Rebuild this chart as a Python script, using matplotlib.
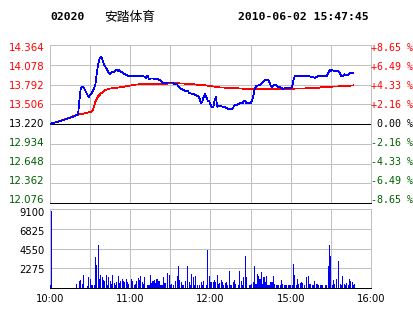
import matplotlib
matplotlib.use("Agg")
import matplotlib.pyplot as plt

# ---------------- data ----------------
code = "02020"
name = "安踏体育"
stamp = "2010-06-02 15:47:45"
prev_close = 13.220

price_ticks = [14.364, 14.078, 13.792, 13.506, 13.220, 12.934, 12.648, 12.362, 12.076]
pct_labels = ["+8.65 %", "+6.49 %", "+4.33 %", "+2.16 %", " 0.00 %",
              "-2.16 %", "-4.33 %", "-6.49 %", "-8.65 %"]
vol_ticks = [9100, 6825, 4550, 2275]
time_ticks = [0, 60, 120, 180, 240]
time_labels = ["10:00", "11:00", "12:00", "15:00", "16:00"]

# minutes since 10:00 (12:30 joins 14:30)
price_min = [0, 3, 6, 9, 12, 15, 18, 20, 21, 22, 23, 24, 25, 26, 27, 28, 29, 30, 31, 32, 33,
             34, 35, 36, 37, 38, 39, 40, 41, 42, 43, 44, 45, 46, 47, 48, 49, 50, 51, 52, 53,
             54, 55, 56, 58, 62, 66, 70, 72, 73, 74, 76, 80, 82, 84, 85, 88, 90, 92, 93, 95,
             96, 97, 99, 101, 103, 104, 106, 108, 110, 111, 112, 113, 114, 115, 116, 117, 118,
             119, 120, 121, 122, 123, 124, 125, 127, 129, 131, 133, 135, 136, 137, 138, 140,
             142, 144, 145, 146, 147, 148, 150, 151, 152, 153, 154, 156, 157, 158, 159, 160,
             161, 163, 164, 165, 166, 167, 168, 169, 170, 172, 174, 176, 178, 180, 181, 182,
             183, 186, 190, 194, 196, 198, 200, 204, 207, 208, 209, 210, 211, 212, 214, 216,
             217, 218, 219, 220, 221, 222, 223, 225, 227]
price_val = [13.22, 13.24, 13.25, 13.27, 13.29, 13.31, 13.33, 13.35, 13.36, 13.56, 13.74, 13.76,
             13.75, 13.72, 13.68, 13.64, 13.61, 13.64, 13.66, 13.70, 13.74, 13.80, 13.96, 14.08,
             14.16, 14.20, 14.17, 14.10, 14.06, 14.03, 14.00, 13.96, 13.94, 13.96, 13.98, 13.97,
             14.00, 14.01, 13.99, 14.00, 13.98, 13.97, 13.95, 13.94, 13.92, 13.92, 13.92, 13.91,
             13.89, 13.92, 13.87, 13.88, 13.87, 13.86, 13.83, 13.81, 13.82, 13.82, 13.82, 13.80,
             13.80, 13.76, 13.74, 13.72, 13.70, 13.70, 13.67, 13.66, 13.65, 13.63, 13.63, 13.58,
             13.52, 13.55, 13.62, 13.66, 13.60, 13.56, 13.55, 13.50, 13.47, 13.46, 13.55, 13.61,
             13.47, 13.48, 13.47, 13.46, 13.44, 13.43, 13.43, 13.46, 13.49, 13.50, 13.52, 13.52,
             13.55, 13.55, 13.52, 13.52, 13.52, 13.56, 13.62, 13.72, 13.77, 13.78, 13.79, 13.80,
             13.82, 13.84, 13.86, 13.86, 13.83, 13.78, 13.76, 13.77, 13.79, 13.78, 13.76, 13.75,
             13.73, 13.74, 13.74, 13.74, 13.75, 13.85, 13.91, 13.91, 13.91, 13.91, 13.90, 13.89,
             13.91, 13.91, 13.91, 13.96, 14.00, 13.99, 14.00, 13.99, 13.99, 13.98, 13.94, 13.91,
             13.92, 13.94, 13.93, 13.92, 13.94, 13.96, 13.96]

avg_min = [0, 10, 20, 25, 29, 31, 32, 33, 34, 36, 38, 41, 44, 47, 52, 58, 64, 70, 82, 95, 105,
           110, 116, 120, 127, 137, 146, 178, 200, 202, 210, 222, 227]
avg_val = [13.22, 13.28, 13.35, 13.37, 13.39, 13.40, 13.42, 13.48, 13.55, 13.62, 13.66, 13.71,
           13.73, 13.74, 13.75, 13.77, 13.79, 13.80, 13.80, 13.81, 13.80, 13.79, 13.78, 13.77,
           13.75, 13.74, 13.73, 13.73, 13.74, 13.75, 13.76, 13.77, 13.78]

vol_min = [0, 1, 20, 22, 23, 24, 25, 28, 29, 30, 31, 32, 33, 34, 35, 36, 37, 38, 39, 40, 41, 42,
           43, 44, 45, 46, 47, 48, 49, 50, 51, 52, 53, 54, 55, 56, 57, 58, 59, 61, 62, 63, 64,
           65, 66, 67, 68, 69, 70, 71, 73, 74, 75, 76, 77, 78, 79, 80, 81, 82, 83, 84, 85, 86,
           88, 89, 90, 91, 92, 94, 95, 96, 97, 98, 99, 100, 101, 103, 104, 105, 106, 107, 108,
           109, 110, 112, 113, 114, 115, 117, 118, 119, 120, 121, 122, 123, 124, 125, 126, 127,
           128, 129, 130, 131, 132, 133, 134, 135, 136, 137, 138, 139, 141, 142, 143, 144, 145,
           146, 147, 149, 150, 151, 152, 153, 154, 155, 156, 157, 158, 159, 160, 161, 162, 163,
           164, 165, 166, 167, 168, 169, 170, 171, 172, 173, 174, 175, 176, 177, 178, 179, 180,
           181, 182, 183, 184, 185, 186, 187, 188, 189, 190, 192, 193, 194, 195, 196, 197, 198,
           199, 200, 201, 202, 203, 204, 206, 207, 208, 209, 210, 211, 212, 213, 214, 216, 217,
           218, 219, 220, 221, 222, 223, 224, 225, 226, 227, 228]
vol_val = [350, 8900, 500, 840, 960, 500, 1540, 270, 1300, 1070, 300, 300, 300, 3530, 2690, 4990,
           1070, 1540, 1230, 960, 840, 1540, 380, 1230, 840, 500, 1540, 580, 380, 690, 1420, 580,
           770, 1070, 840, 690, 1070, 690, 460, 1070, 840, 380, 500, 770, 1150, 920, 1340, 690,
           460, 1230, 380, 380, 1460, 540, 770, 960, 540, 1070, 770, 840, 380, 380, 1230, 540,
           1730, 1460, 300, 460, 300, 770, 1340, 2570, 960, 690, 300, 380, 840, 2490, 690, 380,
           1650, 1300, 380, 1420, 380, 380, 690, 380, 770, 380, 4410, 1420, 690, 650, 650, 920,
           650, 1540, 460, 540, 920, 690, 300, 540, 690, 300, 2000, 380, 380, 690, 920, 460, 380,
           2000, 840, 380, 1230, 3650, 1230, 300, 380, 460, 690, 2570, 460, 1650, 1420, 1070,
           1800, 460, 1230, 690, 1340, 380, 300, 690, 690, 1340, 460, 300, 380, 300, 300, 920,
           460, 300, 300, 300, 300, 380, 380, 300, 2800, 1540, 380, 1070, 460, 540, 690, 580,
           300, 1230, 1420, 460, 460, 380, 300, 840, 460, 460, 300, 380, 300, 300, 300, 300,
           2490, 4910, 3650, 380, 960, 460, 1070, 3070, 460, 380, 1420, 460, 380, 540, 380, 1070,
           770, 690, 380, 460]

# ---------------- styling ----------------
W, H = 414, 314
GRID = "#C0C0C0"
RED = "#FF0000"
GREEN = "#006000"
BLUE = "#0000FF"
LW = 0.72  # one pixel at 100 dpi

fig = plt.figure(figsize=(W / 100, H / 100), dpi=100)
fig.patch.set_facecolor("white")

def box(x0, y0, x1, y1):
    return [x0 / W, 1 - y1 / H, (x1 - x0) / W, (y1 - y0) / H]

def fy(ypix):
    return 1 - ypix / H

P_TOP, P_BOT = 45, 203
V_TOP, V_BOT = 209, 288
ax1 = fig.add_axes(box(50, P_TOP, 371, P_BOT))
ax2 = fig.add_axes(box(50, V_TOP, 371, V_BOT))

xmax = time_ticks[-1]
for ax in (ax1, ax2):
    ax.set_xlim(0, xmax)
    for s in ax.spines.values():
        s.set_color(GRID)
        s.set_linewidth(LW)
        s.set_antialiased(False)
    ax.spines["bottom"].set_color("black")
    for t in range(0, xmax + 1, 30):
        ax.axvline(t, color=GRID, lw=LW, zorder=0, antialiased=False)
    ax.set_yticks([])
    ax.tick_params(length=0)

# price panel
ax1.set_ylim(price_ticks[-1], price_ticks[0])
for p in price_ticks:
    is_ref = abs(p - prev_close) < 1e-6
    ax1.axhline(p, color="black" if is_ref else GRID, lw=LW,
                zorder=1 if is_ref else 0, antialiased=False)
ax1.plot(avg_min, avg_val, color=RED, lw=0.55, zorder=3, antialiased=False,
         solid_joinstyle="miter", solid_capstyle="butt")
ax1.plot(price_min, price_val, color=BLUE, lw=0.55, zorder=4, antialiased=False,
         solid_joinstyle="miter", solid_capstyle="butt")
ax1.set_xticks([])

n = len(price_ticks)
for i, (p, pl) in enumerate(zip(price_ticks, pct_labels)):
    if abs(p - prev_close) < 1e-6:
        c = "black"
    elif p > prev_close:
        c = RED
    else:
        c = GREEN
    ypix = 47.7 + i * (200.0 - 47.7) / (n - 1)
    fig.text(44.5 / W, fy(ypix), f"{p:.3f}", color=c, fontsize=7.4,
             family="DejaVu Sans", ha="right", va="center")
    fig.text(371.5 / W, fy(ypix), pl, color=c, fontsize=7.2,
             family="DejaVu Sans Mono", ha="left", va="center")

# volume panel
ax2.set_ylim(0, vol_ticks[0])
for v in vol_ticks:
    ax2.axhline(v, color=GRID, lw=LW, zorder=0, antialiased=False)
ax2.bar(vol_min, vol_val, width=0.8, color=BLUE, linewidth=0, zorder=3, antialiased=False)
for i, v in enumerate(vol_ticks):
    ypix = 213.0 + i * 19.1
    fig.text(44.5 / W, fy(ypix), str(v), color="black", fontsize=7.2,
             family="DejaVu Sans", ha="right", va="center")
ax2.set_xticks(time_ticks)
ax2.set_xticklabels(time_labels, fontsize=7.2)
ax2.tick_params(axis="x", pad=4)

# header
fig.text(50 / W, fy(17), code, fontsize=8.2, family="DejaVu Sans Mono",
         weight="bold", va="center", ha="left")
fig.text(104 / W, fy(17), name, fontsize=9.2, family=["Noto Sans CJK SC", "DejaVu Sans"],
         va="center", ha="left")
fig.text(238 / W, fy(17), stamp, fontsize=8.2, family="DejaVu Sans Mono",
         weight="bold", va="center", ha="left")

fig.savefig("out.png", dpi=100, facecolor="white")
